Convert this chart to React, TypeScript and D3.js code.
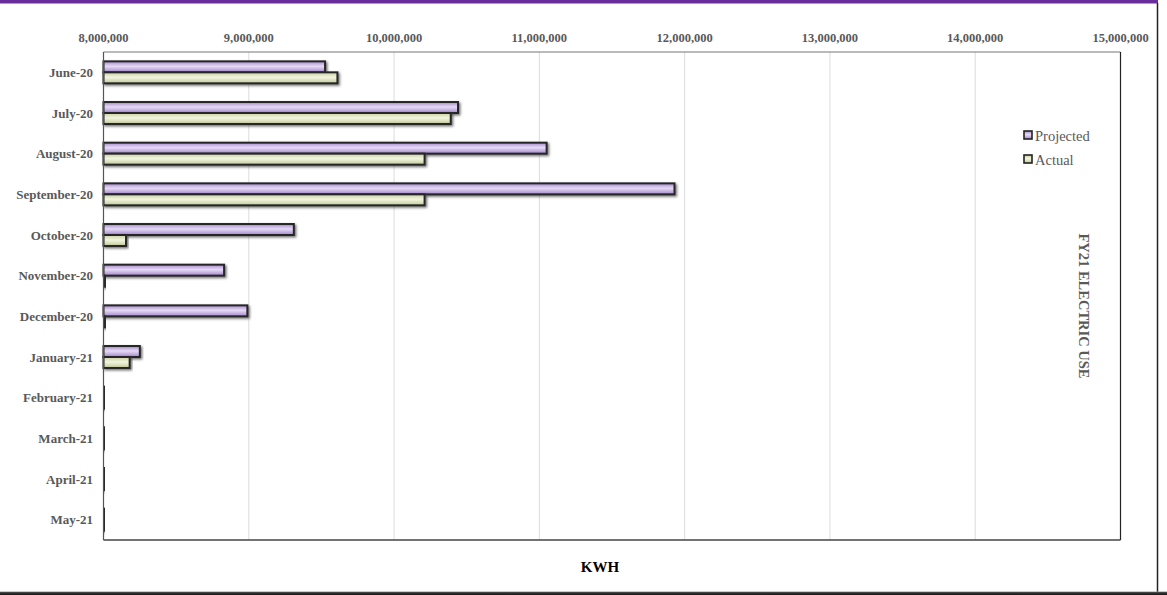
import React from "react";
import * as d3 from "d3";

const months = ["June-20","July-20","August-20","September-20","October-20","November-20","December-20","January-21","February-21","March-21","April-21","May-21"];
const projected = [9525000, 10440000, 11050000, 11930000, 9310000, 8830000, 8990000, 8250000, 8005000, 8005000, 8005000, 8005000];
const actual = [9610000, 10390000, 10210000, 10210000, 8155000, 8010000, 8010000, 8180000, 8005000, 8005000, 8005000, 8005000];
const xTicks = [8000000, 9000000, 10000000, 11000000, 12000000, 13000000, 14000000, 15000000];
const seriesNames = ["Projected", "Actual"];

const W = 1167, H = 595;
const plot = { left: 103.5, right: 1120.5, top: 52, bottom: 540 };
const font = "'Liberation Serif', 'Times New Roman', serif";

export default function App() {
  const x = d3.scaleLinear().domain([8000000, 15000000]).range([plot.left, plot.right]);
  const y = d3.scaleBand().domain(months).range([plot.top, plot.bottom]).paddingInner(0.46).paddingOuter(0.23);
  const sub = d3.scaleBand().domain(seriesNames).range([0, y.bandwidth()]);
  const fmt = d3.format(",");
  const grads = ["gProj", "gAct"];
  const series = [projected, actual];
  return (
    <svg width={W} height={H} style={{ position: "absolute", left: 0, top: 0, display: "block" }}>
      <defs>
        <linearGradient id="gProj" x1="0" y1="0" x2="0" y2="1">
          <stop offset="0" stopColor="#a68bcc" />
          <stop offset="0.45" stopColor="#e6daf6" />
          <stop offset="1" stopColor="#a286ca" />
        </linearGradient>
        <linearGradient id="gAct" x1="0" y1="0" x2="0" y2="1">
          <stop offset="0" stopColor="#c9cfa0" />
          <stop offset="0.45" stopColor="#f2f5df" />
          <stop offset="1" stopColor="#c3c999" />
        </linearGradient>
        <linearGradient id="gBottom" x1="0" y1="0" x2="0" y2="1">
          <stop offset="0" stopColor="#9a9a9a" />
          <stop offset="0.35" stopColor="#333" />
          <stop offset="1" stopColor="#1a1a1a" />
        </linearGradient>
        <filter id="shadow" x="-10%" y="-60%" width="120%" height="220%">
          <feDropShadow dx="1.5" dy="1.5" stdDeviation="1.2" floodColor="#444" floodOpacity="0.75" />
        </filter>
      </defs>
      <rect x={0} y={0} width={W} height={H} fill="#fff" />
      <rect x={0} y={0} width={1158} height={3.5} fill="#6a2d9c" />
      <line x1={1157.5} y1={3} x2={1157.5} y2={593} stroke="#222" strokeWidth={1.5} />
      <rect x={0} y={591.5} width={W} height={H - 591.5} fill="url(#gBottom)" />

      {xTicks.map((t) => (
        <g key={t}>
          {t > 8000000 && t < 15000000 && (
            <line x1={x(t)} x2={x(t)} y1={plot.top} y2={plot.bottom} stroke="#dcdcdc" strokeWidth={1} />
          )}
          <text x={x(t)} y={42} textAnchor="middle" fontFamily={font} fontWeight="bold" fontSize={12.5} fill="#595959">{fmt(t)}</text>
        </g>
      ))}

      {months.map((m, i) => (
        <g key={m}>
          <text x={93} y={(y(m) as number) + y.bandwidth() / 2 + 4.5} textAnchor="end" fontFamily={font} fontWeight="bold" fontSize={13} fill="#595959">{m}</text>
          {series.map((vals, s) => (
            <rect key={s}
              x={x(8000000)}
              y={(y(m) as number) + (sub(seriesNames[s]) as number)}
              width={Math.max(0, x(vals[i]) - x(8000000))}
              height={sub.bandwidth()}
              fill={`url(#${grads[s]})`}
              stroke="#262626" strokeWidth={2}
              filter="url(#shadow)" />
          ))}
        </g>
      ))}

      <line x1={plot.left} x2={plot.right} y1={plot.top} y2={plot.top} stroke="#777" strokeWidth={1.2} />
      <line x1={plot.left} x2={plot.left} y1={plot.top} y2={plot.bottom} stroke="#555" strokeWidth={1.2} />
      <line x1={plot.right} x2={plot.right} y1={plot.top} y2={plot.bottom} stroke="#222" strokeWidth={1.2} />
      <line x1={plot.left} x2={plot.right} y1={plot.bottom} y2={plot.bottom} stroke="#444" strokeWidth={1.4} />

      {seriesNames.map((n, s) => (
        <g key={n}>
          <rect x={1024} y={131 + s * 24} width={8} height={8} fill={`url(#${grads[s]})`} stroke="#222" strokeWidth={1.6} />
          <text x={1035} y={140.5 + s * 24} fontFamily={font} fontSize={14.5} fill="#595959">{n}</text>
        </g>
      ))}

      <text transform="translate(1079,306) rotate(90)" textAnchor="middle" fontFamily={font} fontWeight="bold" fontSize={14.5} fill="#595959">FY21 ELECTRIC USE</text>
      <text x={600} y={572} textAnchor="middle" fontFamily={font} fontWeight="bold" fontSize={15} fill="#000">KWH</text>
    </svg>
  );
}
